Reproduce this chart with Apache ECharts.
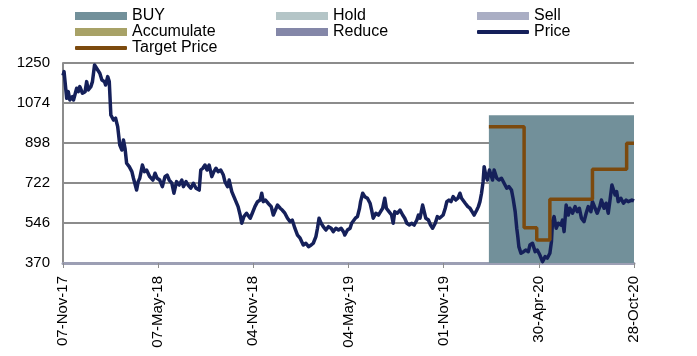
<!DOCTYPE html>
<html>
<head>
<meta charset="utf-8">
<script src="https://cdn.jsdelivr.net/npm/echarts@6/dist/echarts.min.js"></script>
<style>
  html, body { margin: 0; padding: 0; background: #fff; }
  #chart { width: 697px; height: 356px; }
</style>
</head>
<body>
<div id="chart"></div>
<script>
// Share price history, days counted from 07-Nov-2017
const START_DATE = Date.UTC(2017, 10, 7);
const priceDay = [
  0, 2, 5, 7, 10, 13, 18, 20, 26, 29, 32, 37, 42, 45, 48, 53, 56, 60, 62, 66,
  70, 74, 79, 81, 85, 88, 91, 96, 100, 104, 108, 112, 115, 118, 121, 126, 131, 134, 137, 140,
  143, 146, 151, 155, 159, 165, 171, 175, 179, 184, 189, 194, 198, 202, 207, 211, 216, 221, 226, 229,
  234, 238, 243, 248, 253, 259, 262, 266, 270, 274, 278, 283, 287, 291, 295, 300, 305, 308, 313, 316,
  321, 325, 329, 333, 337, 340, 344, 349, 352, 356, 360, 365, 370, 375, 378, 381, 385, 390, 396, 400,
  404, 408, 413, 417, 422, 427, 432, 436, 441, 446, 451, 454, 457, 462, 467, 472, 476, 481, 484, 487,
  491, 495, 500, 505, 510, 514, 519, 524, 529, 534, 536, 541, 546, 549, 552, 556, 560, 564, 566, 570,
  574, 579, 584, 587, 590, 595, 600, 604, 608, 612, 615, 620, 625, 628, 631, 636, 641, 646, 650, 654,
  659, 663, 668, 673, 676, 679, 684, 687, 690, 695, 699, 703, 708, 712, 716, 719, 723, 727, 730, 734,
  738, 742, 747, 751, 755, 758, 761, 765, 770, 774, 778, 782, 787, 790, 793, 796, 799, 801, 804, 807,
  811, 814, 817, 820, 825, 829, 834, 839, 844, 848, 853, 856, 860, 863, 865, 867, 871, 876, 880, 885,
  888, 893, 898, 902, 907, 912, 917, 921, 926, 929, 931, 934, 938, 942, 947, 950, 953, 957, 961, 964,
  969, 974, 978, 982, 986, 991, 995, 999, 1004, 1007, 1012, 1016, 1021, 1024, 1029, 1033, 1037, 1040, 1044, 1047,
  1050, 1053, 1056, 1061, 1066, 1071, 1075, 1082, 1086
];
const priceValue = [
  1195, 1212, 1219, 1095, 1124, 1087, 1102, 1087, 1139, 1124, 1146, 1117, 1124, 1168, 1131, 1146, 1168, 1241, 1249, 1219,
  1205, 1175, 1168, 1153, 1190, 1168, 1021, 999, 1007, 970, 889, 867, 911, 874, 809, 794, 772, 743, 735, 691,
  728, 743, 801, 772, 779, 750, 735, 765, 743, 735, 706, 750, 757, 735, 721, 677, 728, 713, 735, 706,
  728, 713, 699, 721, 699, 691, 779, 787, 801, 779, 801, 750, 772, 787, 772, 779, 757, 728, 706, 735,
  684, 662, 640, 618, 581, 545, 574, 589, 589, 567, 589, 618, 640, 647, 677, 640, 647, 633, 618, 581,
  603, 625, 611, 603, 589, 567, 552, 559, 523, 493, 479, 471, 449, 457, 442, 449, 457, 486, 523, 567,
  545, 530, 515, 530, 523, 508, 523, 515, 523, 505, 493, 515, 523, 545, 537, 567, 574, 611, 640, 677,
  662, 655, 633, 603, 567, 589, 581, 596, 611, 655, 611, 596, 581, 545, 596, 589, 603, 581, 567, 545,
  537, 545, 537, 559, 581, 567, 625, 596, 567, 559, 537, 523, 545, 574, 567, 574, 581, 611, 640, 647,
  640, 662, 647, 655, 677, 655, 662, 633, 618, 611, 596, 581, 603, 618, 640, 677, 728, 794, 757, 735,
  779, 757, 735, 779, 743, 735, 743, 721, 699, 706, 691, 655, 596, 523, 486, 442, 413, 420, 427, 420,
  449, 457, 420, 427, 405, 376, 398, 391, 413, 464, 552, 574, 523, 545, 537, 559, 508, 625, 581, 611,
  589, 618, 596, 611, 567, 552, 589, 618, 596, 640, 611, 589, 618, 647, 611, 633, 589, 640, 713, 721,
  669, 684, 640, 655, 633, 647, 640, 647, 643
];

// Analyst target price, held until the next revision
const targetDay = [810, 877, 901, 926, 1007, 1072, 1086];
const targetValue = [970, 525, 471, 650, 782, 897, 897];

// Rating periods: BUY from day 810 to the end of the window
const buyDay = [810, 1086];
const buyLevel = [1020, 1020];

// Axis settings
const yTicks = [370, 546, 722, 898, 1074, 1250];
const xLastDay = 1086;
const xStepDays = 181;

const MONTHS = ['Jan','Feb','Mar','Apr','May','Jun','Jul','Aug','Sep','Oct','Nov','Dec'];
function dayLabel(d) {
  const dt = new Date(START_DATE + d * 86400000);
  const dd = String(dt.getUTCDate()).padStart(2, '0');
  const yy = String(dt.getUTCFullYear() % 100).padStart(2, '0');
  return dd + '-' + MONTHS[dt.getUTCMonth()] + '-' + yy;
}

const COLORS = {
  BUY: '#72909a',
  Hold: '#b4c5c7',
  Sell: '#aaaec4',
  Accumulate: '#a8a267',
  Reduce: '#8487a8',
  Price: '#15205a',
  'Target Price': '#7c4a0e'
};

const FONT = 'Liberation Sans, Arial, sans-serif';

function legendItem(name, left, top, isLine) {
  return {
    data: [name],
    left: left,
    top: top,
    padding: 0,
    itemGap: 0,
    itemWidth: 52,
    itemHeight: isLine ? 4 : 8,
    icon: isLine ? 'roundRect' : 'rect',
    selectedMode: false,
    textStyle: { fontSize: 16, color: '#000', fontFamily: FONT, padding: [0, 0, 0, 0] }
  };
}

const priceData = priceDay.map((d, i) => [d, priceValue[i]]);
const targetData = targetDay.map((d, i) => [d, targetValue[i]]);
const buyData = buyDay.map((d, i) => [d, buyLevel[i]]);

const chart = echarts.init(document.getElementById('chart'), null, { renderer: 'canvas' });
chart.setOption({
  animation: false,
  backgroundColor: '#fff',
  textStyle: { fontFamily: FONT },
  legend: [
    legendItem('BUY', 75, 8, false),
    legendItem('Hold', 276, 8, false),
    legendItem('Sell', 477, 8, false),
    legendItem('Accumulate', 75, 24, false),
    legendItem('Reduce', 276, 24, false),
    legendItem('Price', 477, 24, true),
    legendItem('Target Price', 75, 40, true)
  ],
  grid: { left: 63, right: 63, top: 63, bottom: 93, containLabel: false },
  xAxis: {
    type: 'value',
    min: 0,
    max: xLastDay,
    interval: xStepDays,
    axisLine: { show: true, lineStyle: { color: '#9c9fb4', width: 3 } },
    axisTick: { show: true, length: 5, lineStyle: { color: '#8c8c8c', width: 1 } },
    splitLine: { show: false },
    axisLabel: {
      rotate: 90,
      margin: 13,
      fontSize: 15,
      color: '#000',
      fontFamily: FONT,
      formatter: v => dayLabel(v)
    }
  },
  yAxis: {
    type: 'value',
    min: yTicks[0],
    max: yTicks[yTicks.length - 1],
    interval: yTicks[1] - yTicks[0],
    axisLine: { show: true, lineStyle: { color: '#8c8c8c', width: 2 } },
    axisTick: { show: false },
    splitLine: { show: true, lineStyle: { color: '#8c8c8c', width: 2 } },
    axisLabel: { margin: 13, fontSize: 15, color: '#000', fontFamily: FONT, formatter: v => String(v) }
  },
  series: [
    {
      name: 'BUY', type: 'line', data: buyData, symbol: 'none',
      color: COLORS.BUY,
      lineStyle: { width: 0, opacity: 0 },
      areaStyle: { color: COLORS.BUY, opacity: 1, origin: 'start' },
      z: 1, silent: true
    },
    { name: 'Hold', type: 'line', data: [], color: COLORS.Hold },
    { name: 'Sell', type: 'line', data: [], color: COLORS.Sell },
    { name: 'Accumulate', type: 'line', data: [], color: COLORS.Accumulate },
    { name: 'Reduce', type: 'line', data: [], color: COLORS.Reduce },
    {
      name: 'Price', type: 'line', data: priceData, symbol: 'none',
      color: COLORS.Price,
      lineStyle: { width: 3.5, color: COLORS.Price, join: 'round' },
      z: 3, silent: true
    },
    {
      name: 'Target Price', type: 'line', step: 'end', data: targetData, symbol: 'none',
      color: COLORS['Target Price'],
      lineStyle: { width: 3.5, color: COLORS['Target Price'] },
      z: 4, silent: true
    }
  ]
});
</script>
</body>
</html>
